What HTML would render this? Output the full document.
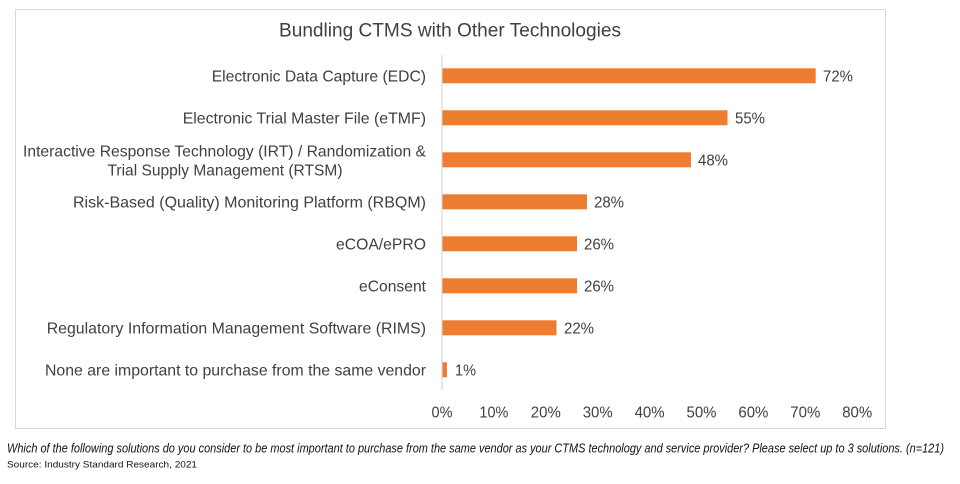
<!DOCTYPE html>
<html>
<head>
<meta charset="utf-8">
<style>
  html, body { margin: 0; padding: 0; background: #ffffff; }
  body { width: 960px; height: 484px; overflow: hidden; }
  svg { display: block; }
  text { font-family: "Liberation Sans", "DejaVu Sans", sans-serif; }
</style>
</head>
<body>
<svg width="960" height="484" viewBox="0 0 960 484" xmlns="http://www.w3.org/2000/svg">
  <rect x="0" y="0" width="960" height="484" fill="#ffffff"/>
  <!-- chart frame -->
  <rect x="15.5" y="9.5" width="870" height="419" fill="#ffffff" stroke="#d9d9d9" stroke-width="1"/>

  <!-- title -->
  <text x="450" y="36.5" text-anchor="middle" font-size="19.5" fill="#404040" textLength="342" lengthAdjust="spacingAndGlyphs">Bundling CTMS with Other Technologies</text>

  <!-- axis line -->
  <line x1="442" y1="55" x2="442" y2="390" stroke="#d9d9d9" stroke-width="1.2"/>

  <!-- bars -->
  <g fill="#ED7D31">
    <rect x="442.5" y="68.3" width="373.2" height="15"/>
    <rect x="442.5" y="110.3" width="285" height="15"/>
    <rect x="442.5" y="152.3" width="248.5" height="15"/>
    <rect x="442.5" y="194.3" width="144.5" height="15"/>
    <rect x="442.5" y="236.3" width="134.5" height="15"/>
    <rect x="442.5" y="278.3" width="134.5" height="15"/>
    <rect x="442.5" y="320.3" width="114" height="15"/>
    <rect x="442.5" y="362.3" width="4.5" height="15"/>
  </g>

  <!-- data labels -->
  <g font-size="16" fill="#404040">
    <text x="823" y="81.5" textLength="30" lengthAdjust="spacingAndGlyphs">72%</text>
    <text x="735" y="123.5" textLength="30" lengthAdjust="spacingAndGlyphs">55%</text>
    <text x="698" y="165.5" textLength="30" lengthAdjust="spacingAndGlyphs">48%</text>
    <text x="594" y="207.5" textLength="30" lengthAdjust="spacingAndGlyphs">28%</text>
    <text x="584" y="249.5" textLength="30" lengthAdjust="spacingAndGlyphs">26%</text>
    <text x="584" y="291.5" textLength="30" lengthAdjust="spacingAndGlyphs">26%</text>
    <text x="564" y="333.5" textLength="30" lengthAdjust="spacingAndGlyphs">22%</text>
    <text x="455" y="375.5" textLength="21" lengthAdjust="spacingAndGlyphs">1%</text>
  </g>

  <!-- category labels -->
  <g font-size="16" fill="#404040">
    <text x="211.7" y="81.5" textLength="214.3" lengthAdjust="spacingAndGlyphs">Electronic Data Capture (EDC)</text>
    <text x="182.7" y="123.5" textLength="243.3" lengthAdjust="spacingAndGlyphs">Electronic Trial Master File (eTMF)</text>
    <text x="23" y="156.5" textLength="403" lengthAdjust="spacingAndGlyphs">Interactive Response Technology (IRT) / Randomization &amp;</text>
    <text x="107.5" y="175.5" textLength="235" lengthAdjust="spacingAndGlyphs">Trial Supply Management (RTSM)</text>
    <text x="73" y="207.5" textLength="353" lengthAdjust="spacingAndGlyphs">Risk-Based (Quality) Monitoring Platform (RBQM)</text>
    <text x="336" y="249.5" textLength="90" lengthAdjust="spacingAndGlyphs">eCOA/ePRO</text>
    <text x="359" y="291.5" textLength="67" lengthAdjust="spacingAndGlyphs">eConsent</text>
    <text x="46.7" y="333.5" textLength="379.3" lengthAdjust="spacingAndGlyphs">Regulatory Information Management Software (RIMS)</text>
    <text x="45" y="375.5" textLength="381" lengthAdjust="spacingAndGlyphs">None are important to purchase from the same vendor</text>
  </g>

  <!-- x-axis tick labels -->
  <g font-size="16" fill="#404040" text-anchor="middle">
    <text x="442" y="417.3" textLength="21" lengthAdjust="spacingAndGlyphs">0%</text>
    <text x="493.9" y="417.3" textLength="29" lengthAdjust="spacingAndGlyphs">10%</text>
    <text x="545.8" y="417.3" textLength="30" lengthAdjust="spacingAndGlyphs">20%</text>
    <text x="597.7" y="417.3" textLength="30" lengthAdjust="spacingAndGlyphs">30%</text>
    <text x="649.6" y="417.3" textLength="30" lengthAdjust="spacingAndGlyphs">40%</text>
    <text x="701.5" y="417.3" textLength="30" lengthAdjust="spacingAndGlyphs">50%</text>
    <text x="753.4" y="417.3" textLength="30" lengthAdjust="spacingAndGlyphs">60%</text>
    <text x="805.3" y="417.3" textLength="30" lengthAdjust="spacingAndGlyphs">70%</text>
    <text x="857.2" y="417.3" textLength="30" lengthAdjust="spacingAndGlyphs">80%</text>
  </g>

  <!-- footnotes -->
  <text x="7" y="452.7" font-size="12.5" font-style="italic" fill="#111111" textLength="937" lengthAdjust="spacingAndGlyphs">Which of the following solutions do you consider to be most important to purchase from the same vendor as your CTMS technology and service provider? Please select up to 3 solutions.  (n=121)</text>
  <text x="7" y="467.6" font-size="9.5" fill="#111111" textLength="190" lengthAdjust="spacingAndGlyphs">Source: Industry Standard Research, 2021</text>
</svg>
</body>
</html>
